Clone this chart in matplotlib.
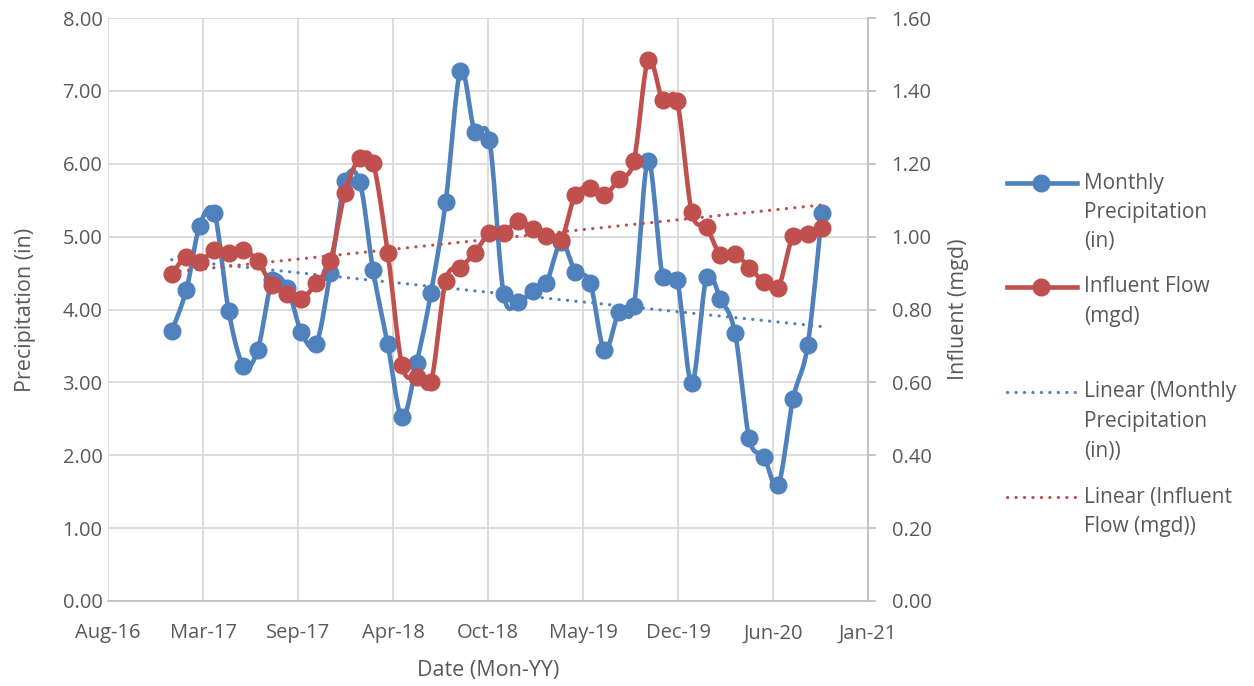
import numpy as np
import pandas as pd
import matplotlib
matplotlib.use('Agg')
import matplotlib.pyplot as plt
import matplotlib.dates as mdates
from matplotlib.lines import Line2D

plt.rcParams['font.family'] = ['Open Sans', 'DejaVu Sans']

# monthly data, Jan-17 .. Oct-20
months = pd.date_range('2017-01-01', '2020-10-01', freq='MS')
precip = [3.70, 4.27, 5.15, 5.32, 3.98, 3.23, 3.44, 4.40, 4.30, 3.69, 3.52, 4.50,
          5.76, 5.75, 4.54, 3.52, 2.52, 3.27, 4.23, 5.48, 7.27, 6.44, 6.33, 4.21,
          4.10, 4.26, 4.37, 4.92, 4.52, 4.37, 3.44, 3.97, 4.05, 6.04, 4.44, 4.41,
          2.99, 4.44, 4.15, 3.68, 2.23, 1.98, 1.59, 2.77, 3.51, 5.32]
influent = [0.898, 0.944, 0.930, 0.964, 0.954, 0.963, 0.932, 0.866, 0.843, 0.829, 0.872, 0.934,
            1.121, 1.216, 1.203, 0.955, 0.647, 0.614, 0.601, 0.879, 0.915, 0.955, 1.010, 1.010,
            1.044, 1.022, 1.003, 0.992, 1.115, 1.133, 1.115, 1.158, 1.208, 1.484, 1.374, 1.372,
            1.067, 1.027, 0.950, 0.952, 0.915, 0.876, 0.860, 1.002, 1.007, 1.024]

labels = ['Monthly\nPrecipitation\n(in)', 'Influent Flow\n(mgd)',
          'Linear (Monthly\nPrecipitation\n(in))', 'Linear (Influent\nFlow (mgd))']

BLUE = '#4F81BD'
RED = '#C0504D'
TXT = '#595959'
GRID = '#D9D9D9'
AXL = '#BFBFBF'


def smooth(x, y, n=16):
    # excel-like smoothed line (catmull-rom as cubic bezier)
    x = np.asarray(x, float)
    y = np.asarray(y, float)
    px = np.concatenate([[x[0]], x, [x[-1]]])
    py = np.concatenate([[y[0]], y, [y[-1]]])
    t = np.linspace(0, 1, n, endpoint=False)
    xs, ys = [], []
    for i in range(1, len(x)):
        p0, p1, p2, p3 = i - 1, i, i + 1, i + 2
        for P, out in ((px, xs), (py, ys)):
            b0 = P[p1]
            b1 = P[p1] + (P[p2] - P[p0]) / 6
            b2 = P[p2] - (P[p3] - P[p1]) / 6
            b3 = P[p2]
            out.append((1 - t) ** 3 * b0 + 3 * (1 - t) ** 2 * t * b1 + 3 * (1 - t) * t ** 2 * b2 + t ** 3 * b3)
    xs.append([x[-1]])
    ys.append([y[-1]])
    return np.concatenate(xs), np.concatenate(ys)


W, H = 1254, 686
fig = plt.figure(figsize=(W / 100, H / 100), dpi=100)
ax = fig.add_axes([108 / W, 1 - 601 / H, 760 / W, 583 / H])
ax2 = ax.twinx()

xd = mdates.date2num(months.to_pydatetime())

# precipitation (left axis)
sx, sy = smooth(xd, precip)
ax.plot(sx, sy, color=BLUE, lw=3.3, solid_capstyle='round', zorder=3)
ax.plot(xd, precip, 'o', color=BLUE, ms=12, zorder=4)
k = np.polyfit(xd, precip, 1)
ax.plot(xd[[0, -1]], np.polyval(k, xd[[0, -1]]), color=BLUE, lw=2.3,
        linestyle=(0, (0.05, 2.6)), dash_capstyle='round', zorder=2)

# influent (right axis)
sx, sy = smooth(xd, influent)
ax2.plot(sx, sy, color=RED, lw=3.3, solid_capstyle='round', zorder=3)
ax2.plot(xd, influent, 'o', color=RED, ms=12, zorder=4)
k = np.polyfit(xd, influent, 1)
ax2.plot(xd[[0, -1]], np.polyval(k, xd[[0, -1]]), color=RED, lw=2.3,
         linestyle=(0, (0.05, 2.6)), dash_capstyle='round', zorder=2)

# date axis: excel style, 200 day major unit
x0 = mdates.date2num(pd.Timestamp('2016-08-20').to_pydatetime())
ax.set_xlim(x0, x0 + 1600)
ax.set_xticks(x0 + 200 * np.arange(9))
ax.xaxis.set_major_formatter(mdates.DateFormatter('%b-%y'))

ax.set_ylim(0, 8)
ax.set_yticks(np.arange(0, 8.01, 1))
ax.set_yticklabels([f'{v:.2f}' for v in np.arange(0, 8.01, 1)])
ax2.set_ylim(0, 1.6)
ax2.set_yticks(np.arange(0, 1.601, 0.2))
ax2.set_yticklabels([f'{v:.2f}' for v in np.arange(0, 1.601, 0.2)])

ax.grid(True, color=GRID, lw=1.3)
ax.set_axisbelow(True)
for s in ('top', 'left', 'right'):
    ax.spines[s].set_visible(False)
for s in ('top', 'left', 'bottom'):
    ax2.spines[s].set_visible(False)
ax.spines['bottom'].set_color(AXL)
ax.spines['bottom'].set_linewidth(1.3)
ax2.spines['right'].set_color(AXL)
ax2.spines['right'].set_linewidth(1.3)

ax.tick_params(axis='both', length=0, labelsize=14.5, labelcolor=TXT)
ax.tick_params(axis='x', pad=16)
ax.tick_params(axis='y', pad=4)
ax2.tick_params(axis='y', length=6, width=1.3, color=AXL, labelsize=14.5, labelcolor=TXT, pad=11)

ax.set_xlabel('Date (Mon-YY)', fontsize=15.5, color=TXT, labelpad=12)
ax.set_ylabel('Precipitation (in)', fontsize=15.5, color=TXT, labelpad=19)
ax2.set_ylabel('Influent (mgd)', fontsize=15.5, color=TXT, labelpad=12)

# legend drawn like excel: handle aligned with the first line of text
leg_y = [183, 287, 392, 497]
styles = [dict(color=BLUE, lw=3.3, marker='o', ms=12),
          dict(color=RED, lw=3.3, marker='o', ms=12),
          dict(color=BLUE, lw=2.3, linestyle=(0, (0.05, 2.6)), dash_capstyle='round'),
          dict(color=RED, lw=2.3, linestyle=(0, (0.05, 2.6)), dash_capstyle='round')]
for yy, lab, st in zip(leg_y, labels, styles):
    fy = 1 - yy / H
    fig.add_artist(Line2D([1007 / W, 1077 / W], [fy, fy], transform=fig.transFigure,
                          **{k2: v for k2, v in st.items() if k2 not in ('marker', 'ms')}))
    if 'marker' in st:
        fig.add_artist(Line2D([1041 / W], [fy], transform=fig.transFigure, color=st['color'],
                              marker='o', ms=st['ms'], lw=0))
    for j, line in enumerate(lab.split('\n')):
        fig.text(1084 / W, 1 - (yy + 29.5 * j) / H, line, fontsize=15, color=TXT, va='center', ha='left')

fig.savefig('out.png', dpi=100)
